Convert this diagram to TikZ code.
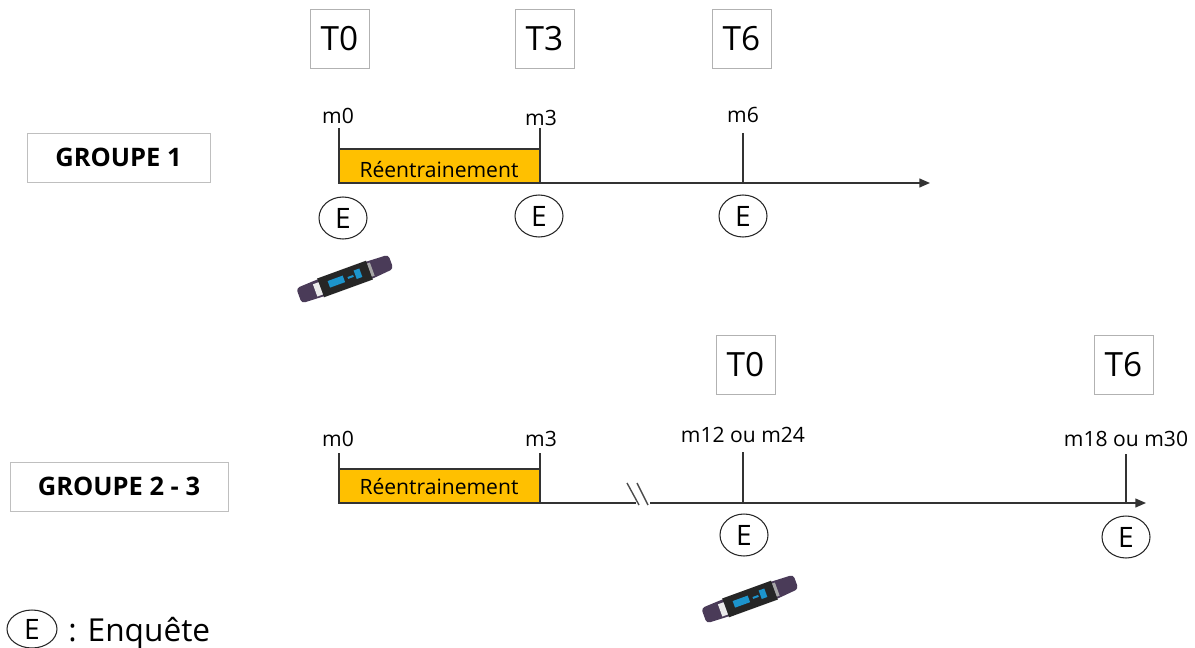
\documentclass[tikz,border=0pt]{standalone}
\usepackage{fontspec}
\setmainfont{Open Sans}
\usetikzlibrary{calc}
\usetikzlibrary{arrows.meta}
\usetikzlibrary{shapes.geometric}

\definecolor{retrain}{HTML}{FFC000}
\definecolor{strap}{HTML}{4A3B58}
\definecolor{screen}{HTML}{1C94CC}
\tikzset{
  time/.style={draw=black!30, line width=0.5pt, minimum width=1.18cm, minimum height=1.18cm, inner sep=0pt, font=\fontsize{19}{19}\selectfont},
  groupe/.style={draw=black!25, line width=0.5pt, minimum height=0.98cm, inner sep=0pt, font=\fontsize{14.5}{15}\selectfont\bfseries},
  enquete/.style={draw=black!85, ellipse, line width=0.6pt, minimum width=0.96cm, minimum height=0.84cm, inner sep=0pt, font=\fontsize{16}{16}\selectfont},
  month/.style={inner sep=0pt, font=\fontsize{12}{12}\selectfont},
  phase/.style={draw=black!80, fill=retrain, line width=0.6pt},
  axis/.style={draw=black!80, line width=0.8pt}
}
\newcommand{\bracelet}[1]{
  \begin{scope}[shift={#1}, rotate=20]
    \fill [rounded corners=2pt, strap] (-49,-8) -- (-27,-9) -- (27,-9) -- (49,-8) -- (49,7) -- (27,9) -- (-27,9) -- (-49,8) -- cycle;
    \fill [black!85] (-26,-10) rectangle (26,10);
    \fill [black!8] (-32,-6) rectangle (-26,7);
    \fill [black!35] (26,-7) rectangle (29,7);
    \fill [screen] (-17,-4) rectangle (-1,3);
    \fill [screen] (3,-1) rectangle (9,1);
    \fill [screen] (11,-5) rectangle (17,4);
  \end{scope}
}

\begin{document}
\begin{tikzpicture}[x=0.02cm, y=-0.02cm]
  \useasboundingbox (0,0) rectangle (1195,648);

  % groupe 1
  \node [groupe, minimum width=3.66cm] (g1) at (118.5,157.5) {GROUPE 1};
  \node [time] (t0a) at (339.5,38.5) {T0};
  \node [time] (t3a) at (544.5,38.5) {T3};
  \node [time] (t6a) at (741.5,38.5) {T6};

  \coordinate (a0) at (339,183);
  \coordinate (a3) at (540,183);
  \coordinate (a6) at (743,183);
  \coordinate (aend) at (930,183);
  \coordinate (a0top) at (339,128);
  \coordinate (a3top) at (540,128);
  \coordinate (a6top) at (743,133);

  \node [month] (m0a) at (338,116) {m0};
  \node [month] (m3a) at (541,118) {m3};
  \node [month] (m6a) at (743,115) {m6};

  \draw [phase] (339,149) rectangle (a3);
  \node [month] (ra) at (439,170) {Réentrainement};
  \draw [axis] (a0top) -- (a0);
  \draw [axis] (a3top) -- (a3);
  \draw [axis] (a6top) -- (a6);
  \draw [axis, -{Triangle[length=6pt,width=5pt]}] (a0) -- (aend);

  \node [enquete] (e0a) at (343,218) {E};
  \node [enquete] (e3a) at (539,216) {E};
  \node [enquete] (e6a) at (743,216) {E};
  \bracelet{(345,279)}

  % groupe 2 - 3
  \node [groupe, minimum width=4.36cm] (g2) at (119,486.5) {GROUPE 2 - 3};
  \node [time] (t0b) at (745.5,364.5) {T0};
  \node [time] (t6b) at (1123.5,364.5) {T6};

  \coordinate (b0) at (339,503);
  \coordinate (b3) at (540,503);
  \coordinate (b12) at (743,503);
  \coordinate (b18) at (1126,503);
  \coordinate (bcuta) at (636,503);
  \coordinate (bcutb) at (650,503);
  \coordinate (bend) at (1146,503);
  \coordinate (b0top) at (339,453);
  \coordinate (b3top) at (540,453);
  \coordinate (b12top) at (743,452);
  \coordinate (b18top) at (1126,454);

  \node [month] (m0b) at (338,439) {m0};
  \node [month] (m3b) at (541,439) {m3};
  \node [month] (m12b) at (743,435) {m12 ou m24};
  \node [month] (m18b) at (1126,439) {m18 ou m30};

  \draw [phase] (339,469) rectangle (b3);
  \node [month] (rb) at (439,487) {Réentrainement};
  \draw [axis] (b0top) -- (b0);
  \draw [axis] (b3top) -- (b3);
  \draw [axis] (b12top) -- (b12);
  \draw [axis] (b18top) -- (b18);
  \draw [axis] (b0) -- (bcuta);
  \draw [axis, -{Triangle[length=6pt,width=5pt]}] (bcutb) -- (bend);
  \draw [axis, black!70] (627,483) -- (639,505);
  \draw [axis, black!70] (637,483) -- (648,505);

  \node [enquete] (e12b) at (744,535) {E};
  \node [enquete] (e18b) at (1126,537) {E};
  \bracelet{(750,599)}

  % legende
  \node [enquete, minimum width=1cm, minimum height=0.76cm] (eleg) at (32,629) {E};
  \node [inner sep=0pt, anchor=west, font=\fontsize{18}{18}\selectfont] (tleg) at (68,633) {: Enquête};
\end{tikzpicture}
\end{document}
